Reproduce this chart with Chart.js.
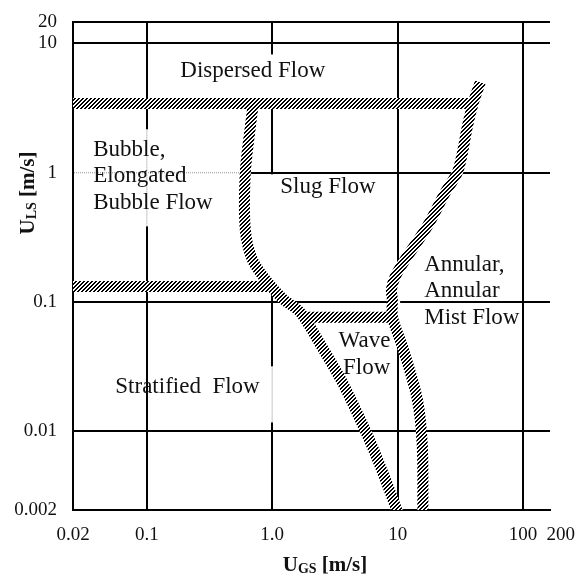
<!DOCTYPE html>
<html>
<head>
<meta charset="utf-8">
<script src="https://cdn.jsdelivr.net/npm/chart.js@4.4.1/dist/chart.umd.min.js"></script>
<style>
  html, body { margin: 0; padding: 0; background: #fff; }
</style>
</head>
<body>
<canvas id="myChart" width="578" height="579"></canvas>
<script>
// frame ends - printed as 0.02/200 and 0.002/20 but the box sits a little inside those
const xMin = 0.0258, xMax = 164;
const yMin = 0.00247, yMax = 14.6;

const xTickValues = [xMin, 0.1, 1, 10, 100, 200];
const xTickLabels = ['0.02', '0.1', '1.0', '10', '100', '200'];
const yTickValues = [yMin, 0.01, 0.1, 1, 10, yMax];
const yTickLabels = ['0.002', '0.01', '0.1', '1', '10', '20'];

// regime boundaries as [U_GS, U_LS] pairs
const dispersedLine = [[xMin, 3.43], [41, 3.43]];
const stratifiedLine = [[xMin, 0.132], [1.0, 0.132]];
const waveLine = [[1.7, 0.0762], [9.1, 0.0762]];
const slugLine = [
  [0.707, 3.43], [0.67, 2.28], [0.61, 1.0], [0.61, 0.363], [0.694, 0.213],
  [0.881, 0.1498], [1.226, 0.105], [1.675, 0.0832], [2.556, 0.0431],
  [3.623, 0.024], [4.86, 0.0133], [6.28, 0.00764], [7.98, 0.00427], [10.3, 0.0022]
];
const annularLine = [
  [45.6, 4.99], [40.2, 3.49], [36.0, 2.28], [32.9, 1.43], [29.9, 1.0],
  [24.0, 0.704], [17.25, 0.385], [11.5, 0.213], [9.59, 0.158], [8.92, 0.125],
  [9.07, 0.105], [9.1, 0.0762], [11.1, 0.0431], [14.36, 0.0177],
  [15.74, 0.00764], [15.9, 0.0022]
];

// regime names
const regionNames = ['Dispersed Flow', 'Bubble,\nElongated\nBubble Flow', 'Slug Flow',
  'Annular,\nAnnular\nMist Flow', 'Wave\nFlow', 'Stratified  Flow'];
const regionX = [0.185, 0.0374, 1.16, 16.3, 8.75, 0.0561];
const regionY = [6.07, 1.51, 0.77, 0.195, 0.0497, 0.0219];
const regionAlign = ['left', 'left', 'left', 'left', 'right', 'left'];

// bits of grid hidden behind the text boxes: [axis, value, from, to, keepGray]
const gridGaps = [
  ['x', 1, 8.2, 3.6, false],
  ['x', 1, 0.97, 0.137, false],
  ['x', 10, 0.189, 0.0585, false],
  ['x', 0.1, 2.16, 0.385, true],
  ['y', 1, xMin, 0.557, true],
  ['x', 1, 0.0318, 0.01175, true]
];

const canvas = document.getElementById('myChart');
const ctx = canvas.getContext('2d');

// diagonal hatch used for the boundary bands
function makeHatch() {
  const tile = document.createElement('canvas');
  tile.width = 4; tile.height = 4;
  const g = tile.getContext('2d');
  g.fillStyle = '#fff';
  g.fillRect(0, 0, 4, 4);
  g.fillStyle = '#000';
  for (let i = 0; i < 4; i++) {
    for (let j = 0; j < 4; j++) {
      if ((i + j) % 4 < 2) g.fillRect(i, j, 1, 1);
    }
  }
  return ctx.createPattern(tile, 'repeat');
}
const hatch = makeHatch();

function band(points) {
  return {
    data: points.map(p => ({ x: p[0], y: p[1] })),
    borderColor: hatch,
    borderWidth: 11,
    borderCapStyle: 'butt',
    borderJoinStyle: 'round',
    pointRadius: 0,
    tension: 0.3,
    fill: false
  };
}

const serif = 'Liberation Serif, Times New Roman, serif';

const gridGapPlugin = {
  id: 'gridGaps',
  beforeDatasetsDraw(chart) {
    const c = chart.ctx, xs = chart.scales.x, ys = chart.scales.y;
    c.save();
    gridGaps.forEach(([axis, v, a, b, gray]) => {
      if (axis === 'x') {
        const px = xs.getPixelForValue(v);
        const y1 = ys.getPixelForValue(a), y2 = ys.getPixelForValue(b);
        c.fillStyle = '#fff';
        c.fillRect(px - 2.5, y1, 5, y2 - y1);
        if (gray) {
          c.strokeStyle = '#b4b4b4'; c.lineWidth = 1.5; c.setLineDash([1, 1]);
          c.beginPath(); c.moveTo(px, y1); c.lineTo(px, y2); c.stroke();
        }
      } else {
        const py = ys.getPixelForValue(v);
        const x1 = xs.getPixelForValue(a), x2 = xs.getPixelForValue(b);
        c.fillStyle = '#fff';
        c.fillRect(x1 + 1, py - 2.5, x2 - x1, 5);
        if (gray) {
          c.strokeStyle = '#b4b4b4'; c.lineWidth = 1.5; c.setLineDash([1, 1]);
          c.beginPath(); c.moveTo(x1 + 1, py); c.lineTo(x2, py); c.stroke();
        }
      }
    });
    c.restore();
  }
};

function drawSubText(c, x, y, main, sub, rest) {
  const big = 'bold 21px ' + serif, small = 'bold 14px ' + serif;
  c.font = big; const w1 = c.measureText(main).width, w3 = c.measureText(rest).width;
  c.font = small; const w2 = c.measureText(sub).width;
  let left = x - (w1 + w2 + w3) / 2;
  c.textAlign = 'left';
  c.textBaseline = 'alphabetic';
  c.font = big; c.fillText(main, left, y);
  c.font = small; c.fillText(sub, left + w1, y + 2);
  c.font = big; c.fillText(rest, left + w1 + w2, y);
}

const labelPlugin = {
  id: 'labels',
  afterDatasetsDraw(chart) {
    const c = chart.ctx, xs = chart.scales.x, ys = chart.scales.y;
    c.save();
    c.fillStyle = '#111';
    c.font = '23px ' + serif;
    c.textBaseline = 'middle';
    regionNames.forEach((name, i) => {
      const px = xs.getPixelForValue(regionX[i]);
      const py = ys.getPixelForValue(regionY[i]);
      c.textAlign = regionAlign[i];
      name.split('\n').forEach((line, k) => c.fillText(line, px, py + k * 26.5));
    });
    c.restore();
  },
  afterDraw(chart) {
    const c = chart.ctx;
    c.save();
    c.fillStyle = '#111';
    drawSubText(c, 325, 571, 'U', 'GS', ' [m/s]');
    c.translate(34, 193);
    c.rotate(-Math.PI / 2);
    drawSubText(c, 0, 0, 'U', 'LS', ' [m/s]');
    c.restore();
  }
};

const tickFont = { family: serif, size: 19 };

new Chart(ctx, {
  type: 'line',
  data: {
    datasets: [
      band(dispersedLine),
      band(stratifiedLine),
      band(waveLine),
      band(slugLine),
      band(annularLine)
    ]
  },
  options: {
    responsive: false,
    animation: false,
    events: [],
    layout: { padding: { left: 0, right: 28, top: 22, bottom: 0 } },
    plugins: { legend: { display: false }, tooltip: { enabled: false } },
    scales: {
      x: {
        type: 'logarithmic',
        min: xMin,
        max: xMax,
        bounds: 'data',
        afterBuildTicks: s => { s.ticks = xTickValues.map(v => ({ value: v })); },
        afterFit: s => {
          s.height = 69;
          s.paddingLeft = 0; s.paddingRight = 0;
        },
        ticks: {
          autoSkip: false, maxRotation: 0, padding: 14, color: '#111', font: tickFont,
          callback: (v, i) => xTickLabels[i]
        },
        grid: {
          // the 200 label sits past the frame, so no line for it
          color: c => (c.tick && c.tick.value > xMax) ? 'rgba(0,0,0,0)' : '#000',
          lineWidth: 2,
          drawTicks: false
        },
        border: { color: '#000', width: 2 }
      },
      y: {
        type: 'logarithmic',
        min: yMin,
        max: yMax,
        bounds: 'data',
        afterBuildTicks: s => { s.ticks = yTickValues.map(v => ({ value: v })); },
        afterFit: s => {
          s.width = 73;
          s.paddingTop = 0; s.paddingBottom = 0;
        },
        ticks: {
          autoSkip: false, padding: 16, color: '#111', font: tickFont,
          callback: (v, i) => yTickLabels[i]
        },
        grid: { color: '#000', lineWidth: 2, drawTicks: false },
        border: { color: '#000', width: 2 }
      }
    }
  },
  plugins: [gridGapPlugin, labelPlugin]
});
</script>
</body>
</html>
